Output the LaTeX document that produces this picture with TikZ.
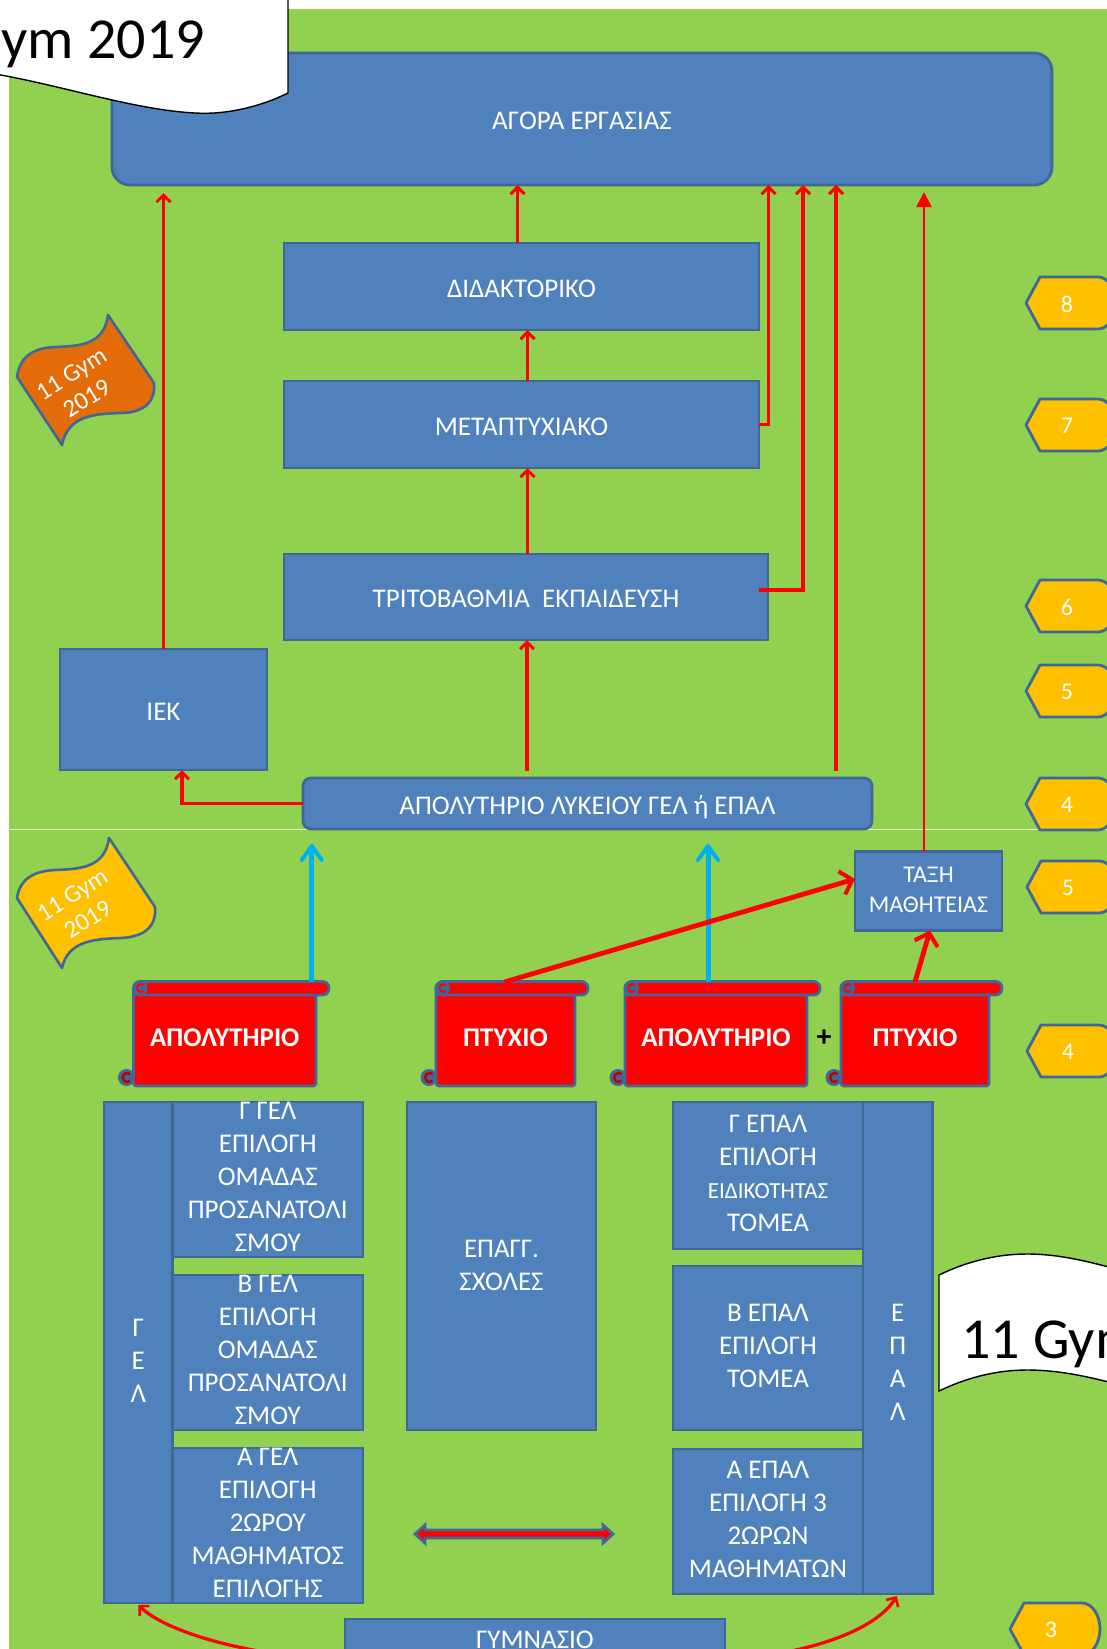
\documentclass[tikz,border=0pt]{standalone}
\usepackage{fontspec}
\setmainfont{Carlito}
\usetikzlibrary{arrows.meta,calc}
\definecolor{bgreen}{HTML}{92D050}
\definecolor{bblue}{HTML}{4F81BD}
\definecolor{bedge}{HTML}{3F6797}
\definecolor{bred}{HTML}{FF0000}
\definecolor{dred}{HTML}{C00000}
\definecolor{sky}{HTML}{00B0F0}
\definecolor{amber}{HTML}{FFC000}
\definecolor{orng}{HTML}{E36C09}
\newcommand\fs[2]{\fontsize{#1}{#2}\selectfont}
\newcommand\ml[2][-6pt]{\raisebox{#1}[0pt][0pt]{\begin{tabular}{@{}c@{}}#2\end{tabular}}}
\newcommand\one[1]{\raisebox{-10.5pt}[0pt][0pt]{#1}}
\tikzset{
  box/.style={draw=bedge,fill=bblue,line width=2.8pt,text=white,inner sep=0pt,outer sep=0pt,font=\fs{27}{33}},
  redarr/.style={draw=bred,line width=3.4pt,-{Straight Barb[length=7pt,width=14pt,line width=3pt]}},
  thinarr/.style={draw=bred,line width=2.4pt,-{Triangle[length=15pt,width=15pt]}},
  bigarr/.style={draw=bred,line width=4.8pt,-{Straight Barb[length=11pt,width=24pt,line width=4pt]}},
  skyarr/.style={draw=sky,line width=5pt,-{Straight Barb[round,length=14pt,width=20pt,line width=4pt]}},
  curvarr/.style={draw=bred,line width=3.2pt,-{Straight Barb[length=7pt,width=14pt,line width=2.6pt]}},
  scrl/.style={draw=bedge,line width=2.8pt,fill=bred},
  tagshape/.style={draw=bedge,line width=2.8pt,fill=amber,line join=round},
  tagtext/.style={text=white,font=\fs{24}{26},inner sep=0pt},
  flagshape/.style={draw=bedge,line width=2.6pt,line join=round},
  flagtext/.style={text=white,font=\fs{25}{29},align=center,rotate=32,inner sep=0pt},
  banner/.style={draw=black,line width=1.4pt,fill=white},
  bannertext/.style={text=black,font=\fs{58}{60},inner sep=0pt},
}
\newcommand\bx[6]{\node[box,minimum width={(#4-#2)*1pt},minimum height={(#5-#3)*1pt}] (#1) at ({(#2+#4)/2},{(#3+#5)/2}) {#6};}
% name, tip x, centre y, text
\newcommand\tagsh[4]{%
  \draw[tagshape] (#2,#3) -- (#2+14,#3-26) -- (#2+72,#3-26) .. controls (#2+82,#3-26) and (#2+90,#3-14) .. (#2+90,#3)
     .. controls (#2+90,#3+14) and (#2+82,#3+26) .. (#2+72,#3+26) -- (#2+14,#3+26) -- cycle;
  \node[tagtext] (#1) at (#2+41,#3+1) {#4};}
% name, xL, xR, barR, text
\newcommand\scrollsh[5]{%
  \fill[bedge] (#2-7,1077.5) circle (8.5pt);
  \draw[dred,line width=2.6pt] (#2-3.5,1074) arc[start angle=50,end angle=310,radius=4.5pt];
  \node[scrl,text=white,inner sep=0pt,outer sep=0pt,rounded corners=3pt,minimum width={(#3-#2)*1pt},minimum height=100pt,font=\bfseries\fs{27}{30}] (#1) at ({(#2+#3)/2},1036) {\one{#5}};
  \draw[scrl,rounded corners=6.5pt] (#2,981.5) rectangle (#4,995);
  \fill[bedge] (#2+7,988) circle (7pt);
  \draw[bred,line width=2pt] (#2+10,985) arc[start angle=50,end angle=310,radius=4pt];
  \draw[bedge,line width=1.6pt] (#2+4,988) -- (#2+11,988);
  \draw[bedge,line width=2.8pt] (#2,995) -- (#2+12,995);
}
\begin{document}
\begin{tikzpicture}[x=1pt,y=-1pt]
\useasboundingbox (0,0) rectangle (1107,1649);
\clip (0,0) rectangle (1107,1649);
\fill[white] (0,0) rectangle (1107,1649);
\fill[bgreen] (9,9) rectangle (1107,1649);
\draw[draw=white!80!bgreen,line width=1pt] (9,829) -- (1107,829);

% upper part
\node[box,rounded corners=18pt,minimum width=940pt,minimum height=132pt] (agora) at (582,119) {\one{ΑΓΟΡΑ ΕΡΓΑΣΙΑΣ}};
\bx{dida}{284}{243}{759}{330}{\one{ΔΙΔΑΚΤΟΡΙΚΟ}}
\bx{meta}{284}{381}{759}{468}{\one{ΜΕΤΑΠΤΥΧΙΑΚΟ}}
\bx{tri}{284}{554}{768}{640}{\one{ΤΡΙΤΟΒΑΘΜΙΑ \ ΕΚΠΑΙΔΕΥΣΗ}}
\bx{iek}{60}{649}{267}{770}{\one{ΙΕΚ}}
\node[box,rounded corners=8pt,minimum width=569pt,minimum height=51pt] (lyk) at (587.5,803.5) {\one{ΑΠΟΛΥΤΗΡΙΟ ΛΥΚΕΙΟΥ ΓΕΛ ή ΕΠΑΛ}};
\node[box,minimum width=147pt,minimum height=79pt,font=\fs{24}{29.5}] (taxi) at (928.5,891) {\ml[-7pt]{ΤΑΞΗ\\ΜΑΘΗΤΕΙΑΣ}};

% scrolls
\scrollsh{apoA}{133.5}{316}{329}{ΑΠΟΛΥΤΗΡΙΟ}
\scrollsh{ptyA}{436}{575}{588}{ΠΤΥΧΙΟ}
\scrollsh{apoB}{625}{807}{820}{ΑΠΟΛΥΤΗΡΙΟ}
\scrollsh{ptyB}{841}{989}{1002}{ΠΤΥΧΙΟ}
\node[text=black,font=\bfseries\fs{30}{32},inner sep=0pt] (plus) at (824,1038) {+};

% lower columns
\bx{gel}{104}{1102}{172.5}{1603}{\ml[-17pt]{Γ\\Ε\\Λ}}
\bx{gelC}{172.5}{1102}{363}{1257}{\ml{Γ ΓΕΛ\\ΕΠΙΛΟΓΗ\\ΟΜΑΔΑΣ\\ΠΡΟΣΑΝΑΤΟΛΙ\\ΣΜΟΥ}}
\bx{gelB}{172.5}{1275}{363}{1430}{\ml{Β ΓΕΛ\\ΕΠΙΛΟΓΗ\\ΟΜΑΔΑΣ\\ΠΡΟΣΑΝΑΤΟΛΙ\\ΣΜΟΥ}}
\bx{gelA}{172.5}{1448}{363}{1603}{\ml{Α ΓΕΛ\\ΕΠΙΛΟΓΗ\\2ΩΡΟΥ\\ΜΑΘΗΜΑΤΟΣ\\ΕΠΙΛΟΓΗΣ}}
\bx{epag}{407}{1102}{596}{1430}{\ml[-8pt]{ΕΠΑΓΓ.\\ΣΧΟΛΕΣ}}
\bx{epC}{673}{1102}{863}{1249}{\ml{Γ ΕΠΑΛ\\ΕΠΙΛΟΓΗ\\{\fs{23}{33}ΕΙΔΙΚΟΤΗΤΑΣ}\\ΤΟΜΕΑ}}
\bx{epB}{673}{1266}{863}{1430}{\ml{Β ΕΠΑΛ\\ΕΠΙΛΟΓΗ\\ΤΟΜΕΑ}}
\bx{epA}{673}{1449}{863}{1594}{\ml{Α ΕΠΑΛ\\ΕΠΙΛΟΓΗ 3\\2ΩΡΩΝ\\ΜΑΘΗΜΑΤΩΝ}}
\bx{epal}{863}{1102}{932.5}{1594}{\ml[-23pt]{Ε\\Π\\Α\\Λ}}
\bx{gym}{345}{1619}{725}{1657}{\one{ΓΥΜΝΑΣΙΟ}}

% double block arrow
\draw[draw=bedge,line width=2.8pt,fill=bred,line join=miter]
  (415,1534) -- (425,1525) -- (425,1530) -- (603,1530) -- (603,1525) -- (613,1534) -- (603,1543) -- (603,1538) -- (425,1538) -- (425,1543) -- cycle;

% tags
\tagsh{tag8}{1026}{303}{8}
\tagsh{tag7}{1026}{425}{7}
\tagsh{tag6}{1026}{606}{6}
\tagsh{tag5}{1026}{691}{5}
\tagsh{tag4}{1026}{804}{4}
\tagsh{tagL5}{1027}{887}{5}
\tagsh{tagL4}{1027}{1051}{4}
\tagsh{tag3}{1010}{1629}{3}

% flags
\draw[flagshape,fill=orng] (108,315) -- (154,383) .. controls (156,405) and (140,413) .. (120,413) .. controls (95,414) and (68,415) .. (62,445)
   -- (17,377) .. controls (20,355) and (35,348) .. (55,347) .. controls (80,346) and (104,345) .. (108,315) -- cycle;
\node[flagtext] (flagA) at (79,386) {11 Gym\\2019};
\draw[flagshape,fill=amber] (109,838) -- (155,907) .. controls (157,929) and (141,937) .. (121,938) .. controls (96,939) and (68,940) .. (62,968)
   -- (17,898) .. controls (20,878) and (35,871) .. (55,870) .. controls (80,869) and (105,868) .. (109,838) -- cycle;
\node[flagtext] (flagB) at (80,907) {11 Gym\\2019};

% connectors
\draw[redarr,shorten >=8pt] (iek.north) -- (iek.north |- agora.south);
\draw[redarr] ([xshift=-4pt]dida.north) -- ([xshift=-4pt]dida.north |- agora.south);
\draw[redarr] ([xshift=6pt]meta.north) -- ([xshift=6pt]meta.north |- dida.south);
\draw[redarr] ([xshift=1.5pt]tri.north) -- ([xshift=1.5pt]tri.north |- meta.south);
\draw[redarr,shorten <=7pt] ([xshift=-60.5pt]lyk.north) -- ([xshift=-60.5pt]lyk.north |- tri.south);
\draw[redarr] (meta.east) -| ([xshift=186.5pt]agora.south);
\draw[redarr] ([xshift=-9pt,yshift=7pt]tri.east) -| ([xshift=221pt]agora.south);
\draw[redarr,shorten <=7pt] ([xshift=248.5pt]lyk.north) -- ([xshift=248.5pt]lyk.north |- agora.south);
\draw[thinarr,shorten >=7pt] ([xshift=-4.5pt]taxi.north) -- ([xshift=-4.5pt]taxi.north |- agora.south);
\draw[redarr] (lyk.west) -| ([xshift=18.5pt]iek.south);
\draw[skyarr,shorten >=19pt] ([xshift=87pt,yshift=4pt]apoA.north) -- ([xshift=87pt,yshift=4pt]apoA.north |- lyk.south);
\draw[skyarr,shorten >=19pt] ([xshift=-8pt,yshift=4pt]apoB.north) -- ([xshift=-8pt,yshift=4pt]apoB.north |- lyk.south);
\draw[bigarr] ([xshift=-1pt,yshift=4pt]ptyA.north) -- ([yshift=12pt]taxi.west);
\draw[bigarr] ([xshift=0pt,yshift=4pt]ptyB.north) -- ([xshift=1.5pt]taxi.south);
\draw[curvarr] (gym.south west) .. controls (290,1662) and (175,1640) .. ([xshift=0pt,yshift=-2pt]gel.south);
\draw[curvarr] (gym.south east) .. controls (770,1660) and (870,1640) .. ([yshift=-2pt,xshift=-1pt]epal.south);

% banners
\draw[banner] (288,-10) -- (288,93) .. controls (260,107) and (225,115) .. (195,113) .. controls (135,110) and (60,85) .. (-5,74) -- (-5,-10) -- cycle;
\node[bannertext,anchor=base east] (banA) at (205,58) {11 Gym 2019};
\draw[banner] (939,1275) .. controls (970,1260) and (1000,1254) .. (1027,1254) .. controls (1060,1254) and (1090,1262) .. (1120,1270) -- (1120,1385) .. controls (1090,1377) and (1060,1370) .. (1027,1370) .. controls (1000,1370) and (970,1376) .. (939,1391) -- cycle;
\node[bannertext,anchor=base west] (banB) at (961,1358) {11 Gym 2019};
\end{tikzpicture}
\end{document}
